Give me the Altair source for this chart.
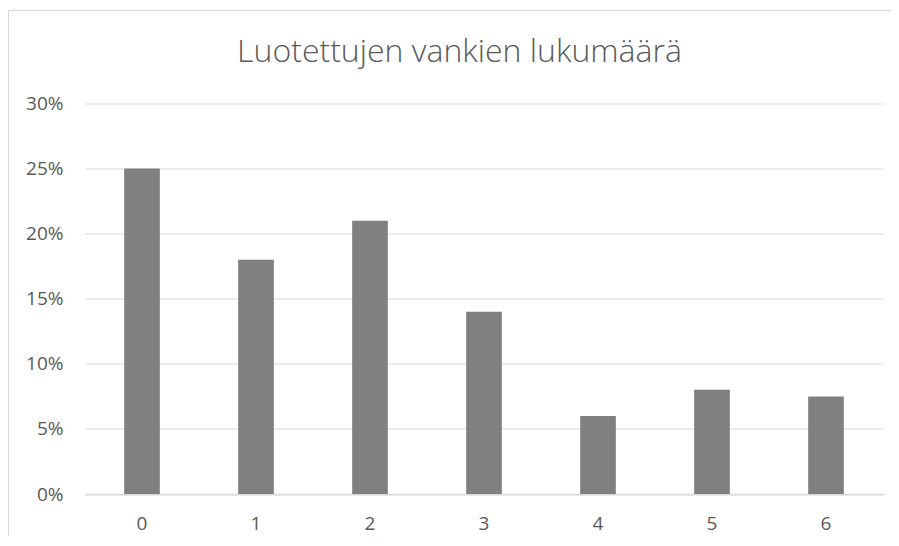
import altair as alt
import pandas as pd

categories = ["0", "1", "2", "3", "4", "5", "6"]
values = [0.25, 0.18, 0.21, 0.14, 0.06, 0.08, 0.075]
y_ticks = [0, 0.05, 0.10, 0.15, 0.20, 0.25, 0.30]
title_text = "Luotettujen vankien lukumäärä"

df = pd.DataFrame({"cat": categories, "val": values})

FONT = "Open Sans"
TXT = "#595959"
GRID = "#d9d9d9"

bars = alt.Chart(df).mark_bar(color="#808080").encode(
    x=alt.X("cat:N", sort=categories, title=None,
            scale=alt.Scale(paddingInner=0.687, paddingOuter=0.3435),
            axis=alt.Axis(labelAngle=0, ticks=False, grid=False, domainColor=GRID, domainWidth=1.5,
                          labelPadding=20, labelFontSize=19, labelColor=TXT, labelFont=FONT)),
    y=alt.Y("val:Q", title=None,
            scale=alt.Scale(domain=[0, 0.3]),
            axis=alt.Axis(values=y_ticks, format=".0%", ticks=False, domain=False,
                          gridColor=GRID, gridWidth=1.2, labelPadding=22,
                          labelFontSize=19, labelColor=TXT, labelFont=FONT)),
)

one = pd.DataFrame({"k": [0]})

frame_top = alt.Chart(one).mark_rule(stroke=GRID, strokeWidth=1.2).encode(
    x=alt.value(-76.5), x2=alt.value(806), y=alt.value(-93),
)
frame_left = alt.Chart(one).mark_rule(stroke=GRID, strokeWidth=1.2).encode(
    x=alt.value(-76.5), y=alt.value(-93), y2=alt.value(440),
)

title = alt.Chart(one).mark_text(
    text=title_text, font=FONT, fontSize=32, fontWeight=300, color=TXT,
    align="center", baseline="alphabetic",
).encode(x=alt.value(374.5), y=alt.value(-41.5))

chart = alt.layer(frame_top, frame_left, title, bars).properties(
    width=798, height=390.5,
    background="white",
    autosize=alt.AutoSizeParams(type="none"),
    padding={"left": 77, "top": 95.5, "right": 8, "bottom": 42},
).configure_view(stroke=None, strokeWidth=0)

chart.save("out.html", embed_options={"renderer": "svg", "actions": False})
